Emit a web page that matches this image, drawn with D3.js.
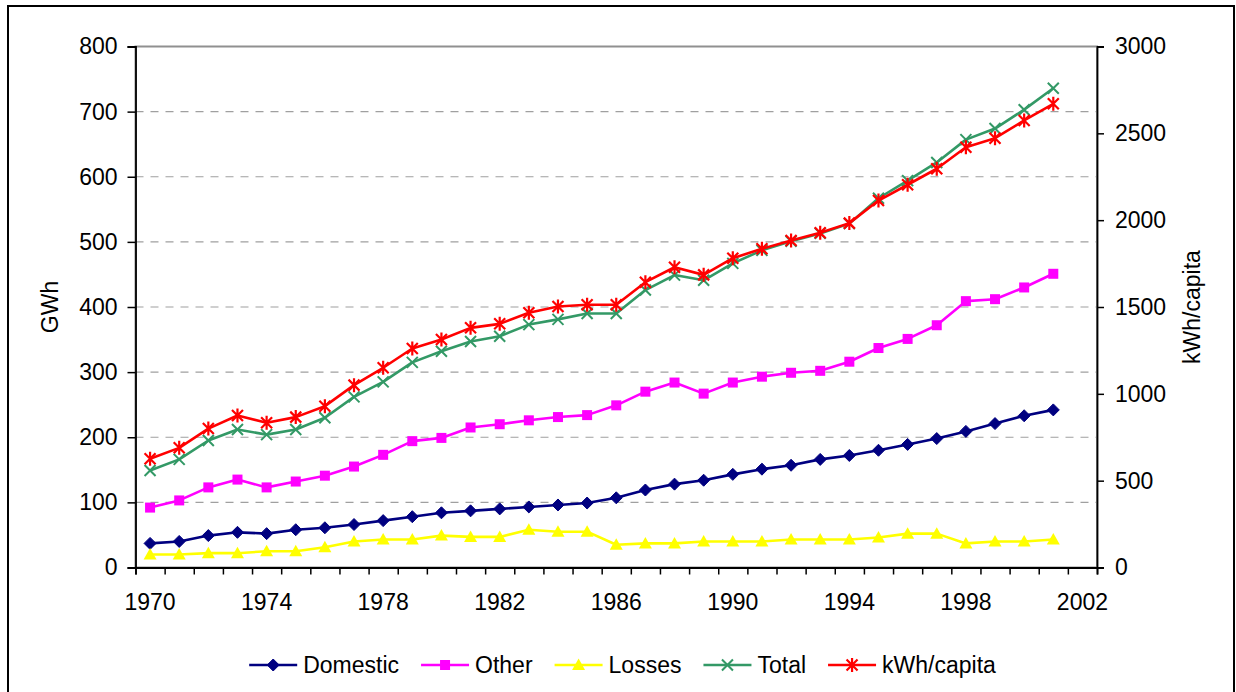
<!DOCTYPE html>
<html>
<head>
<meta charset="utf-8">
<script src="https://cdn.jsdelivr.net/npm/d3@7"></script>
<style>
  html, body { margin: 0; padding: 0; background: #fff; }
  svg { display: block; font-family: "Liberation Sans", Arial, sans-serif; }
</style>
</head>
<body>
<svg id="chart" width="1236" height="692"></svg>
<script>
// Electricity consumption 1970-2001
const years = [1970, 1971, 1972, 1973, 1974, 1975, 1976, 1977, 1978, 1979,
               1980, 1981, 1982, 1983, 1984, 1985, 1986, 1987, 1988, 1989,
               1990, 1991, 1992, 1993, 1994, 1995, 1996, 1997, 1998, 1999,
               2000, 2001];
const axisYears = [...years, 2002];

const domestic = [37, 40, 49, 54, 52, 58, 61, 66, 72, 78, 84, 87, 90, 93, 96, 99,
                  107, 119, 128, 134, 143, 151, 157, 166, 172, 180, 189, 198, 209, 221, 233, 242];
const other = [92, 103, 123, 135, 123, 132, 141, 155, 173, 194, 199, 215, 220, 226, 231, 234,
               249, 270, 284, 267, 284, 293, 299, 302, 316, 337, 351, 372, 409, 412, 430, 451];
const losses = [20, 20, 22, 22, 25, 25, 31, 40, 43, 43, 49, 47, 47, 58, 55, 55,
                35, 37, 37, 40, 40, 40, 43, 43, 43, 46, 52, 52, 37, 40, 40, 43];
const total = [149, 166, 195, 212, 204, 212, 230, 262, 285, 315, 332, 347, 355, 373, 381, 390,
               390, 426, 449, 441, 467, 487, 501, 513, 528, 567, 594, 622, 657, 674, 703, 736];
const kwhPerCapita = [626, 689, 800, 875, 833, 866, 929, 1050, 1150, 1261, 1313, 1380, 1403, 1467, 1503, 1513,
                      1513, 1643, 1729, 1685, 1781, 1835, 1883, 1927, 1983, 2113, 2204, 2296, 2420, 2472, 2574, 2670];

const leftTicks = [0, 100, 200, 300, 400, 500, 600, 700, 800];
const rightTicks = [0, 500, 1000, 1500, 2000, 2500, 3000];
const yearLabels = [1970, 1974, 1978, 1982, 1986, 1990, 1994, 1998, 2002];

const series = [
  { name: "Domestic",   values: domestic,     color: "#000080", marker: "diamond",  axis: "left" },
  { name: "Other",      values: other,        color: "#FF00FF", marker: "square",   axis: "left" },
  { name: "Losses",     values: losses,       color: "#FFFF00", marker: "triangle", axis: "left" },
  { name: "Total",      values: total,        color: "#339966", marker: "cross",    axis: "left" },
  { name: "kWh/capita", values: kwhPerCapita, color: "#FF0000", marker: "star",     axis: "right" }
];

const svg = d3.select("#chart");
const plot = { left: 135.5, right: 1097, top: 46.5, bottom: 567.5 };
const FONT = 23;

// outer chart border
svg.append("rect")
  .attr("x", 8).attr("y", 6).attr("width", 1226).attr("height", 700)
  .attr("fill", "#fff").attr("stroke", "#000").attr("stroke-width", 2);

const x = d3.scaleBand().domain(axisYears).range([plot.left, plot.right]).padding(0);
const xEdge = d3.scaleLinear().domain([0, axisYears.length]).range([plot.left, plot.right]);
const yL = d3.scaleLinear().domain([0, 800]).range([plot.bottom, plot.top]);
const yR = d3.scaleLinear().domain([0, 3000]).range([plot.bottom, plot.top]);
const cx = yr => x(yr) + x.bandwidth() / 2;

// gridlines
svg.append("g")
  .selectAll("line")
  .data(leftTicks.filter(t => t > 0 && t < 800))
  .join("line")
  .attr("x1", plot.left).attr("x2", plot.right)
  .attr("y1", d => yL(d)).attr("y2", d => yL(d))
  .attr("stroke", "#a0a0a0").attr("stroke-width", 1.2)
  .attr("stroke-dasharray", "8,7");

// plot area frame
svg.append("rect")
  .attr("x", plot.left).attr("y", plot.top)
  .attr("width", plot.right - plot.left).attr("height", plot.bottom - plot.top)
  .attr("fill", "none").attr("stroke", "#909090").attr("stroke-width", 2);

// left axis
const gL = svg.append("g").attr("transform", `translate(${plot.left},0)`)
  .call(d3.axisLeft(yL).tickValues(leftTicks).tickSize(8).tickPadding(10).tickFormat(d3.format("d")));
// right axis
const gR = svg.append("g").attr("transform", `translate(${plot.right},0)`)
  .call(d3.axisRight(yR).tickValues(rightTicks).tickSize(7).tickPadding(11).tickFormat(d3.format("d")));
// bottom axis: tick marks between categories
const gB = svg.append("g").attr("transform", `translate(0,${plot.bottom})`)
  .call(d3.axisBottom(xEdge).tickValues(d3.range(axisYears.length + 1)).tickSize(7).tickFormat(""));
// bottom axis labels at category centres
const gBL = svg.append("g").attr("transform", `translate(0,${plot.bottom})`)
  .call(d3.axisBottom(x).tickValues(yearLabels).tickSize(0).tickPadding(26));
gBL.select(".domain").remove();

[gL, gR, gB, gBL].forEach(g => {
  g.selectAll(".domain").attr("stroke", "#000").attr("stroke-width", 1.8);
  g.selectAll(".tick line").attr("stroke", "#000").attr("stroke-width", 1.5);
  g.selectAll("text").attr("font-size", FONT).attr("fill", "#000")
    .attr("font-family", "Liberation Sans, Arial, sans-serif");
});

// axis titles
svg.append("text")
  .attr("transform", `translate(58,${(plot.top + plot.bottom) / 2}) rotate(-90)`)
  .attr("text-anchor", "middle").attr("font-size", FONT).text("GWh");
svg.append("text")
  .attr("transform", `translate(1200,${(plot.top + plot.bottom) / 2}) rotate(-90)`)
  .attr("text-anchor", "middle").attr("font-size", FONT).text("kWh/capita");

// marker drawing
function drawMarker(g, type, color) {
  switch (type) {
    case "diamond":
      g.append("path").attr("d", "M0,-6L6,0L0,6L-6,0Z").attr("fill", color).attr("stroke", color).attr("stroke-width", 1);
      break;
    case "square":
      g.append("rect").attr("x", -5).attr("y", -5).attr("width", 10).attr("height", 10).attr("fill", color);
      break;
    case "triangle":
      g.append("path").attr("d", "M0,-6.5L6.5,5L-6.5,5Z").attr("fill", color);
      break;
    case "cross":
      g.append("path").attr("d", "M-5.5,-5.5L5.5,5.5M-5.5,5.5L5.5,-5.5").attr("stroke", color).attr("stroke-width", 2).attr("fill", "none");
      break;
    case "star":
      g.append("path").attr("d", "M-5.5,-5.5L5.5,5.5M-5.5,5.5L5.5,-5.5M0,-7L0,7").attr("stroke", color).attr("stroke-width", 2.2).attr("fill", "none");
      break;
  }
}

// series lines and markers
series.forEach(s => {
  const ys = s.axis === "left" ? yL : yR;
  const line = d3.line().x((d, i) => cx(years[i])).y(d => ys(d));
  const g = svg.append("g");
  g.append("path").datum(s.values).attr("d", line)
    .attr("fill", "none").attr("stroke", s.color).attr("stroke-width", 2.6)
    .attr("stroke-linejoin", "round");
  s.values.forEach((v, i) => {
    const m = g.append("g").attr("transform", `translate(${cx(years[i])},${ys(v)})`);
    drawMarker(m, s.marker, s.color);
  });
});

// legend
const legend = svg.append("g");
const legendY = 665;
const legendGap = 22;
let lx = 0;
series.forEach(s => {
  const it = legend.append("g").attr("transform", `translate(${lx},${legendY})`);
  it.append("line").attr("x1", 0).attr("x2", 48).attr("y1", 0).attr("y2", 0)
    .attr("stroke", s.color).attr("stroke-width", 2.6);
  drawMarker(it.append("g").attr("transform", "translate(24,0)"), s.marker, s.color);
  const t = it.append("text").attr("x", 54).attr("y", 0).attr("dy", "0.35em")
    .attr("font-size", FONT).text(s.name);
  lx += 54 + t.node().getComputedTextLength() + legendGap;
});
const legendWidth = lx - legendGap;
legend.attr("transform", `translate(${622.5 - legendWidth / 2},0)`);
</script>
</body>
</html>
